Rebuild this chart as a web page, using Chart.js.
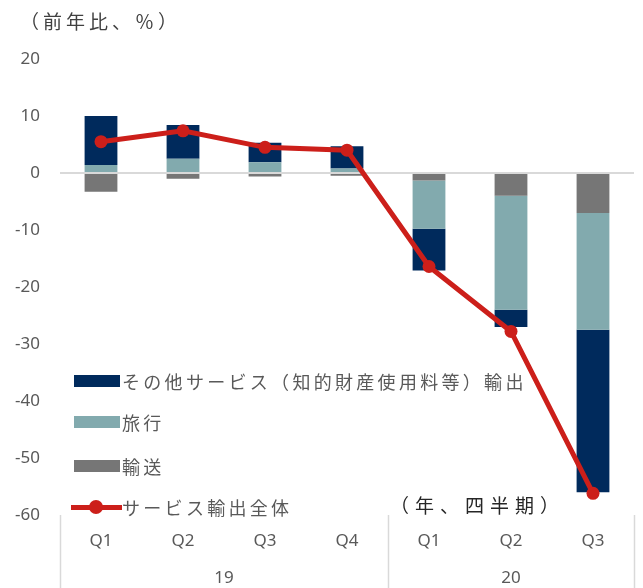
<!DOCTYPE html>
<html>
<head>
<meta charset="utf-8">
<script src="https://cdn.jsdelivr.net/npm/chart.js@4.4.1/dist/chart.umd.min.js"></script>
<style>
  body { margin: 0; background: #fff; }
  #wrap { position: relative; width: 643px; height: 588px; }
  .txt { position: absolute; font-family: "Noto Sans CJK JP", "Noto Sans", sans-serif; font-size: 18px; line-height: 18px; letter-spacing: 3.3px; white-space: nowrap; }
  .leg { left: 74px; color: #595959; display: flex; align-items: center; }
  .sw { width: 46px; height: 12px; margin-right: 2px; }
  .lineSw { position: relative; width: 51px; height: 14px; margin-left: -3px; margin-right: 0px; }
  .lineSw .l { position: absolute; left: 0; right: 0; top: 4.5px; height: 5px; background: #cc1f1a; }
  .lineSw .d { position: absolute; left: 18px; top: 0; width: 14px; height: 14px; border-radius: 50%; background: #cc1f1a; }
</style>
</head>
<body>
<div id="wrap">
  <canvas id="chart" width="643" height="588"></canvas>
  <div class="txt" style="left:20px; top:12px; font-size:19px; letter-spacing:4px; color:#404040;">（前年比、％）</div>
  <div class="txt" style="left:390px; top:496px; font-size:19px; letter-spacing:6px; color:#262626;">（年、四半期）</div>
  <div class="txt leg" style="top:372px;"><span class="sw" style="background:#002a5c"></span>その他サービス（知的財産使用料等）輸出</div>
  <div class="txt leg" style="top:413px;"><span class="sw" style="background:#82aaae"></span>旅行</div>
  <div class="txt leg" style="top:457px;"><span class="sw" style="background:#767676"></span>輸送</div>
  <div class="txt leg" style="top:498px;"><span class="lineSw"><span class="l"></span><span class="d"></span></span>サービス輸出全体</div>
</div>
<script>
const quarters = ['Q1', 'Q2', 'Q3', 'Q4', 'Q1', 'Q2', 'Q3'];
const years = ['19', '20'];
const yearSpans = [4, 3];
const otherServices = [8.6, 5.9, 3.4, 3.9, -7.3, -3.0, -28.5];
const travel = [1.4, 2.5, 1.9, 0.8, -8.5, -20.0, -20.5];
const transport = [-3.3, -1.0, -0.6, -0.5, -1.3, -4.0, -7.0];
const totalExports = [5.5, 7.4, 4.5, 4.0, -16.4, -27.8, -56.2];
const yTicks = [20, 10, 0, -10, -20, -30, -40, -50, -60];

// year label positions and group edges on the second (linear) x axis
let yearCenters = [], groupEdges = [-0.5], start = 0;
yearSpans.forEach(function(n) {
    yearCenters.push(start + (n - 1) / 2);
    start += n;
    groupEdges.push(start - 0.5);
});

const tickFont = { family: "'Noto Sans', sans-serif", size: 17 };

// vertical separators between the year groups, below the plot
const separators = {
    id: 'separators',
    afterDraw(chart) {
        const ctx = chart.ctx;
        const x2 = chart.scales.x2;
        ctx.save();
        ctx.strokeStyle = '#d9d9d9';
        ctx.lineWidth = 1.5;
        groupEdges.forEach(function(v) {
            const px = Math.round(x2.getPixelForValue(v)) + 0.5;
            ctx.beginPath();
            ctx.moveTo(px, chart.chartArea.bottom);
            ctx.lineTo(px, chart.height);
            ctx.stroke();
        });
        ctx.restore();
    }
};

new Chart(document.getElementById('chart').getContext('2d'), {
    type: 'bar',
    data: {
        labels: quarters,
        datasets: [
            {
                type: 'line', label: 'サービス輸出全体', data: totalExports, order: 0, stack: 'total',
                borderColor: '#cc1f1a', backgroundColor: '#cc1f1a', borderWidth: 5,
                pointRadius: 6.5, pointBackgroundColor: '#cc1f1a', pointBorderWidth: 0, tension: 0
            },
            { label: '輸送', data: transport, backgroundColor: '#767676', order: 1, stack: 'bars' },
            { label: '旅行', data: travel, backgroundColor: '#82aaae', order: 1, stack: 'bars' },
            { label: 'その他サービス（知的財産使用料等）輸出', data: otherServices, backgroundColor: '#002a5c', order: 1, stack: 'bars' }
        ]
    },
    options: {
        responsive: false,
        animation: false,
        layout: { padding: { top: 59, right: 9, left: 0, bottom: 0 } },
        datasets: { bar: { barPercentage: 0.5, categoryPercentage: 0.8 } },
        plugins: { legend: { display: false }, tooltip: { enabled: false } },
        scales: {
            y: {
                stacked: true, min: -60, max: 20,
                afterBuildTicks: function(scale) { scale.ticks = yTicks.map(v => ({ value: v })); },
                afterFit: function(scale) { scale.width = 60; },
                border: { display: false },
                grid: {
                    drawTicks: false,
                    color: ctx => ctx.tick && ctx.tick.value === 0 ? '#d9d9d9' : 'transparent',
                    lineWidth: 2
                },
                ticks: { color: '#595959', font: tickFont, padding: 20 }
            },
            x: {
                stacked: true,
                afterFit: function(scale) { scale.height = 37; },
                border: { display: false },
                grid: { display: false, drawTicks: false },
                ticks: { color: '#595959', font: tickFont, padding: 16, maxRotation: 0 }
            },
            x2: {
                type: 'linear', position: 'bottom', offset: false,
                min: -0.5, max: quarters.length - 0.5,
                afterBuildTicks: function(scale) { scale.ticks = yearCenters.map(v => ({ value: v })); },
                afterFit: function(scale) { scale.height = 36; },
                border: { display: false },
                grid: { display: false, drawTicks: false },
                ticks: {
                    color: '#595959', font: tickFont, padding: 16, maxRotation: 0,
                    callback: function(value) { return years[yearCenters.indexOf(value)]; }
                }
            }
        }
    },
    plugins: [separators]
});
</script>
</body>
</html>
